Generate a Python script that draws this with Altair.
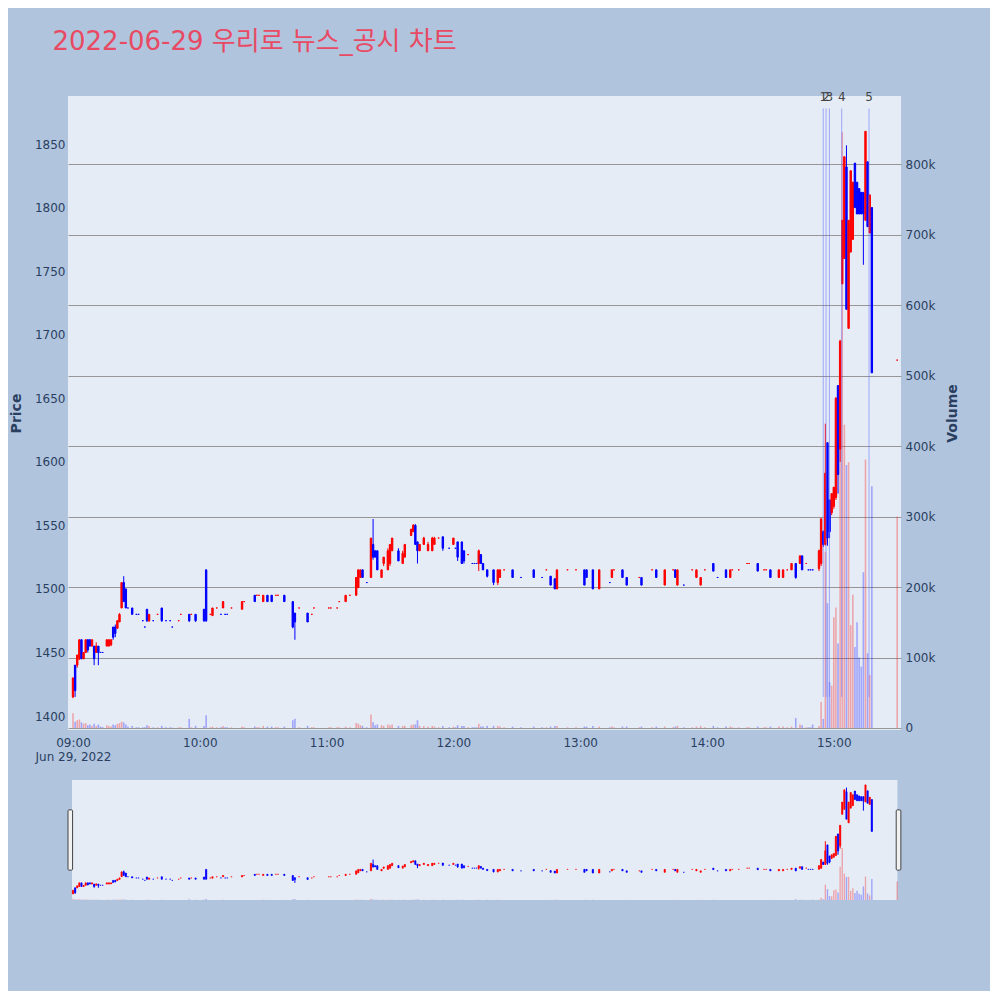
import altair as alt
import numpy as np
import pandas as pd

DAY = "2022-06-29"

# ── 1-minute candles (KST) ───────────────────────────────────────────────────
times = [
    # 09h
    "09:00", "09:01", "09:02", "09:03", "09:04", "09:05", "09:06", "09:07", "09:08", "09:09",
    "09:10", "09:11", "09:12", "09:13", "09:14", "09:16", "09:17", "09:18", "09:19", "09:20",
    "09:21", "09:22", "09:23", "09:24", "09:25", "09:26", "09:28", "09:30", "09:31", "09:33",
    "09:34", "09:35", "09:36", "09:38", "09:40", "09:42", "09:44", "09:46", "09:47", "09:50",
    "09:51", "09:55", "09:56", "09:58",
    # 10h
    "10:02", "10:03", "10:05", "10:06", "10:08", "10:10", "10:11", "10:12", "10:13", "10:15",
    "10:20", "10:21", "10:26", "10:27", "10:28", "10:30", "10:32", "10:34", "10:36", "10:37",
    "10:40", "10:44", "10:45", "10:47", "10:51", "10:53", "10:54",
    # 11h
    "11:01", "11:02", "11:05", "11:06", "11:09", "11:11", "11:14", "11:15", "11:16", "11:17",
    "11:19", "11:21", "11:22", "11:23", "11:24", "11:26", "11:27", "11:29", "11:30", "11:31",
    "11:34", "11:36", "11:37", "11:40", "11:41", "11:42", "11:43", "11:44", "11:46", "11:48",
    "11:50", "11:51", "11:53", "11:55", "11:58",
    # 12h
    "12:00", "12:01", "12:02", "12:04", "12:05", "12:07", "12:09", "12:10", "12:11", "12:12",
    "12:13", "12:14", "12:16", "12:19", "12:21", "12:22", "12:24", "12:28", "12:32", "12:38",
    "12:42", "12:44", "12:46", "12:48", "12:49", "12:54", "12:58",
    # 13h
    "13:02", "13:03", "13:06", "13:09", "13:14", "13:15", "13:16", "13:20", "13:22", "13:28",
    "13:29", "13:34", "13:36", "13:40", "13:44", "13:45", "13:46", "13:49", "13:53", "13:55",
    "13:57", "13:59",
    # 14h
    "14:03", "14:05", "14:09", "14:11", "14:12", "14:15", "14:19", "14:20", "14:24", "14:27",
    "14:28", "14:30", "14:34", "14:36", "14:38", "14:40", "14:42", "14:44", "14:45", "14:47",
    "14:48", "14:49", "14:50", "14:53", "14:54", "14:55", "14:56", "14:57", "14:58", "14:59",
    # 15h
    "15:00", "15:01", "15:02", "15:03", "15:04", "15:05", "15:06", "15:07", "15:08", "15:09",
    "15:10", "15:11", "15:12", "15:13", "15:14", "15:15", "15:16", "15:17", "15:18", "15:30",
]

opens = [
    1415, 1440, 1440, 1445, 1460, 1445, 1450, 1460, 1460, 1455,
    1455, 1450, 1455, 1450, 1450, 1455, 1455, 1456, 1470, 1470,
    1469, 1474, 1485, 1505, 1500, 1485, 1485, 1480, 1480, 1475,
    1470, 1484, 1475, 1475, 1480, 1485, 1475, 1475, 1470, 1475,
    1480, 1480, 1480, 1480,
    1484, 1515, 1480, 1479, 1485, 1480, 1485, 1480, 1480, 1485,
    1484, 1490, 1495, 1495, 1495, 1490, 1495, 1495, 1495, 1495,
    1495, 1490, 1481, 1485, 1481, 1480, 1485,
    1485, 1485, 1485, 1490, 1490, 1495, 1495, 1501, 1509, 1515,
    1505, 1509, 1535, 1530, 1530, 1509, 1520, 1515, 1520, 1530,
    1530, 1520, 1525, 1542, 1545, 1550, 1537, 1530, 1535, 1530,
    1530, 1535, 1540, 1541, 1532,
    1535, 1532, 1537, 1537, 1530, 1527, 1520, 1520, 1520, 1520,
    1527, 1520, 1515, 1515, 1505, 1509, 1515, 1515, 1509, 1515,
    1509, 1515, 1510, 1508, 1500, 1515, 1515,
    1515, 1515, 1515, 1500, 1505, 1509, 1515, 1515, 1509, 1509,
    1509, 1515, 1515, 1503, 1515, 1515, 1503, 1503, 1515, 1509,
    1503, 1515,
    1520, 1509, 1515, 1509, 1515, 1515, 1520, 1520, 1520, 1515,
    1515, 1515, 1509, 1509, 1515, 1515, 1520, 1520, 1526, 1520,
    1515, 1515, 1515, 1516, 1520, 1545, 1535, 1615, 1570, 1560,
    1565, 1572, 1660, 1610, 1740, 1760, 1832, 1705, 1765, 1775,
    1835, 1820, 1815, 1812, 1812, 1790, 1836, 1780, 1800, 1680,
]

highs = [
    1430, 1440, 1448, 1460, 1460, 1450, 1460, 1460, 1460, 1460,
    1455, 1458, 1455, 1450, 1450, 1460, 1460, 1460, 1470, 1472,
    1475, 1481, 1505, 1510, 1500, 1485, 1485, 1480, 1480, 1475,
    1470, 1484, 1480, 1475, 1480, 1485, 1475, 1475, 1470, 1475,
    1480, 1480, 1480, 1480,
    1484, 1515, 1480, 1485, 1485, 1480, 1490, 1480, 1480, 1485,
    1490, 1490, 1495, 1495, 1495, 1495, 1495, 1495, 1495, 1495,
    1495, 1490, 1481, 1485, 1481, 1480, 1485,
    1485, 1485, 1485, 1490, 1495, 1495, 1509, 1515, 1515, 1515,
    1505, 1540, 1555, 1530, 1530, 1515, 1525, 1532, 1535, 1540,
    1532, 1530, 1535, 1547, 1551, 1551, 1537, 1535, 1541, 1537,
    1541, 1541, 1540, 1541, 1532,
    1540, 1532, 1537, 1537, 1530, 1527, 1520, 1520, 1520, 1531,
    1527, 1520, 1515, 1515, 1515, 1515, 1515, 1515, 1509, 1515,
    1509, 1515, 1510, 1508, 1515, 1515, 1515,
    1515, 1515, 1515, 1515, 1505, 1515, 1515, 1515, 1509, 1509,
    1509, 1515, 1515, 1515, 1515, 1515, 1515, 1503, 1515, 1515,
    1509, 1515,
    1520, 1509, 1515, 1515, 1515, 1515, 1520, 1520, 1520, 1515,
    1515, 1515, 1515, 1515, 1515, 1520, 1520, 1526, 1526, 1520,
    1515, 1515, 1515, 1531, 1556, 1546, 1630, 1615, 1570, 1575,
    1580, 1651, 1660, 1696, 1790, 1840, 1849, 1790, 1829, 1820,
    1835, 1820, 1815, 1812, 1812, 1860, 1836, 1810, 1800, 1680,
]

lows = [
    1414, 1415, 1438, 1444, 1445, 1445, 1450, 1450, 1455, 1455,
    1440, 1450, 1440, 1450, 1450, 1455, 1455, 1455, 1460, 1462,
    1469, 1474, 1485, 1490, 1485, 1485, 1480, 1480, 1480, 1475,
    1470, 1474, 1474, 1475, 1480, 1474, 1475, 1475, 1470, 1475,
    1480, 1474, 1480, 1474,
    1474, 1474, 1480, 1479, 1485, 1480, 1485, 1480, 1480, 1485,
    1484, 1490, 1490, 1495, 1495, 1490, 1490, 1490, 1495, 1495,
    1490, 1469, 1460, 1485, 1474, 1480, 1485,
    1485, 1485, 1485, 1490, 1490, 1495, 1495, 1501, 1509, 1509,
    1505, 1509, 1523, 1525, 1515, 1509, 1518, 1515, 1518, 1530,
    1522, 1520, 1525, 1542, 1545, 1535, 1520, 1530, 1535, 1530,
    1530, 1535, 1540, 1530, 1532,
    1535, 1532, 1522, 1520, 1520, 1527, 1520, 1520, 1520, 1514,
    1520, 1515, 1509, 1503, 1503, 1509, 1515, 1509, 1509, 1509,
    1509, 1515, 1503, 1500, 1500, 1515, 1515,
    1503, 1509, 1500, 1500, 1505, 1509, 1515, 1509, 1503, 1509,
    1503, 1515, 1509, 1503, 1515, 1509, 1503, 1503, 1515, 1509,
    1503, 1515,
    1514, 1509, 1509, 1509, 1515, 1515, 1520, 1520, 1514, 1515,
    1515, 1509, 1509, 1509, 1515, 1515, 1508, 1520, 1515, 1520,
    1515, 1515, 1515, 1514, 1518, 1533, 1534, 1534, 1540, 1558,
    1563, 1570, 1575, 1600, 1740, 1760, 1720, 1705, 1765, 1775,
    1800, 1795, 1795, 1795, 1755, 1790, 1785, 1780, 1670, 1680,
]

closes = [
    1430, 1420, 1448, 1460, 1445, 1450, 1460, 1452, 1455, 1460,
    1445, 1455, 1450, 1450, 1450, 1460, 1460, 1460, 1462, 1465,
    1475, 1480, 1505, 1490, 1485, 1485, 1480, 1480, 1480, 1475,
    1470, 1475, 1480, 1475, 1480, 1475, 1475, 1475, 1470, 1475,
    1480, 1475, 1480, 1475,
    1475, 1475, 1480, 1485, 1485, 1480, 1490, 1480, 1480, 1485,
    1490, 1490, 1490, 1495, 1495, 1495, 1490, 1490, 1495, 1495,
    1490, 1470, 1474, 1485, 1474, 1480, 1485,
    1485, 1485, 1485, 1490, 1495, 1495, 1509, 1515, 1515, 1509,
    1505, 1540, 1525, 1525, 1515, 1515, 1525, 1530, 1535, 1540,
    1522, 1528, 1535, 1547, 1550, 1535, 1530, 1535, 1540, 1535,
    1540, 1540, 1540, 1532, 1532,
    1540, 1532, 1525, 1520, 1522, 1527, 1520, 1520, 1520, 1530,
    1520, 1515, 1510, 1505, 1515, 1515, 1515, 1509, 1509, 1509,
    1509, 1515, 1503, 1500, 1515, 1515, 1515,
    1503, 1509, 1500, 1515, 1505, 1515, 1515, 1509, 1503, 1509,
    1503, 1515, 1509, 1515, 1515, 1509, 1515, 1503, 1515, 1515,
    1509, 1515,
    1514, 1509, 1509, 1515, 1515, 1515, 1520, 1520, 1514, 1515,
    1515, 1509, 1515, 1515, 1515, 1520, 1509, 1526, 1515, 1520,
    1515, 1515, 1515, 1530, 1555, 1535, 1591, 1540, 1545, 1575,
    1580, 1650, 1590, 1695, 1790, 1840, 1720, 1790, 1829, 1820,
    1800, 1795, 1795, 1795, 1795, 1860, 1785, 1810, 1670, 1680,
]

volumes = [
    21000, 9000, 11000, 12000, 8000, 6000, 7000, 4000, 5000, 3000,
    6000, 3000, 5000, 2000, 1500, 4000, 3000, 2000, 5000, 4000,
    6000, 7000, 9000, 8000, 5000, 2000, 3000, 1000, 1000, 1000,
    1000, 4000, 3000, 1000, 1000, 3000, 1000, 1000, 500, 1000,
    1000, 13000, 1000, 3000,
    3000, 18000, 1000, 2000, 1000, 1000, 3000, 1000, 1000, 1000,
    2000, 1000, 2000, 1000, 1000, 3000, 2000, 2000, 1000, 1000,
    2000, 11000, 13000, 1000, 3000, 1000, 1000,
    1000, 1000, 1000, 1000, 2000, 1000, 7000, 6000, 4000, 3000,
    1000, 19000, 8000, 4000, 5000, 4000, 3000, 5000, 4000, 5000,
    3000, 3000, 3000, 4000, 5000, 5000, 11000, 3000, 3000, 2000,
    3000, 2000, 1000, 3000, 1000,
    2000, 1000, 4000, 3000, 3000, 1000, 1000, 1000, 1000, 6000,
    2000, 2000, 3000, 3000, 3000, 2000, 1000, 2000, 1000, 2000,
    1000, 1000, 2000, 3000, 3000, 1000, 1000,
    2000, 2000, 3000, 2000, 1000, 2000, 1000, 2000, 2000, 1000,
    2000, 1000, 2000, 2000, 1000, 2000, 3000, 1000, 1000, 2000,
    3000, 1000,
    3000, 1000, 2000, 2000, 1000, 1000, 1000, 1000, 2000, 1000,
    1000, 2000, 2000, 2000, 1000, 2000, 14000, 5000, 4000, 1000,
    1000, 1000, 5000, 3000, 37000, 13000, 250000, 177000, 65000, 60000,
    157000, 171000, 120000, 540000, 845000, 430000, 373000, 377000, 146000, 189000,
    115000, 150000, 100000, 87000, 221000, 381000, 106000, 75000, 343000, 300000,
]

# ── News / disclosure markers ────────────────────────────────────────────────
event_labels = ["1", "2", "3", "4", "5"]
event_times = ["14:55:00", "14:56:20", "14:57:55", "15:03:45", "15:16:40"]
event_bottom = 1415
event_top = 1878

n = len(times)
assert all(len(a) == n for a in (opens, highs, lows, closes, volumes)), [len(a) for a in (times, opens, highs, lows, closes, volumes)]

# Plotly-style direction: close vs open, ties decided by previous close
up = []
for i, (o, c) in enumerate(zip(opens, closes)):
    if c > o:
        d = True
    elif c < o:
        d = False
    elif i == 0:
        d = True
    elif c > closes[i - 1]:
        d = True
    elif c < closes[i - 1]:
        d = False
    else:
        d = up[-1]
    up.append(d)

df = pd.DataFrame({
    "t": pd.to_datetime([f"{DAY} {s}" for s in times]),
    "open": opens, "high": highs, "low": lows, "close": closes, "volume": volumes,
    "col": np.where(up, "#ff0000", "#0000ff"),
})

ev = pd.DataFrame({
    "t": pd.to_datetime([f"{DAY} {s}" for s in event_times]),
    "label": event_labels,
    "bottom": event_bottom,
    "top": event_top,
})


def dt(h, m=0, s=0):
    return alt.DateTime(year=2022, month=6, date=29, hours=h, minutes=m, seconds=s)


FONT = "DejaVu Sans"

# ── Scales / axes ────────────────────────────────────────────────────────────
x_scale = alt.Scale(domain=[dt(8, 57, 38), dt(15, 31, 48)], nice=False, padding=0)
x_axis = alt.Axis(
    values=[dt(h) for h in range(9, 16)],
    labelExpr="datum.index == 0 ? [timeFormat(datum.value, '%H:%M'), timeFormat(datum.value, '%b %-d, %Y')] : timeFormat(datum.value, '%H:%M')",
    title=None, grid=False, labelPadding=7, labelLineHeight=14,
)
x_enc = alt.X("t:T", scale=x_scale, axis=x_axis)

price_scale = alt.Scale(domain=[1389, 1887.8], nice=False, zero=False)
price_axis = alt.Axis(orient="left", values=list(range(1400, 1851, 50)), format="d", title="Price",
                      gridColor="white", gridWidth=1, labelPadding=3, titlePadding=11)

vol_scale = alt.Scale(domain=[-2840, 896500], nice=False, zero=False)
vol_axis = alt.Axis(orient="right", values=list(range(0, 800001, 100000)),
                    labelExpr="datum.value == 0 ? '0' : format(datum.value / 1000, 'd') + 'k'",
                    title="Volume", titleAngle=270, gridColor="#969696", gridWidth=1,
                    labelPadding=4, titlePadding=25)

col = alt.Color("col:N", scale=None, legend=None)

# ── Main panel ───────────────────────────────────────────────────────────────
vol = alt.Chart(df).mark_bar(width=1.6, opacity=0.3).encode(
    x=x_enc,
    y=alt.Y("volume:Q", scale=vol_scale, axis=vol_axis),
    y2=alt.datum(0),
    color=col,
)

wick = alt.Chart(df).mark_rule(strokeWidth=1).encode(
    x=x_enc,
    y=alt.Y("low:Q", scale=price_scale, axis=price_axis),
    y2="high:Q",
    color=col,
)

body = alt.Chart(df).mark_bar(width=1.4, strokeWidth=1).encode(
    x=x_enc,
    y=alt.Y("open:Q", scale=price_scale, axis=price_axis),
    y2="close:Q",
    fill=col,
    stroke=alt.Stroke("col:N", scale=None, legend=None),
)

ev_rule = alt.Chart(ev).mark_rule(color="#636efa", opacity=0.55, strokeWidth=1).encode(
    x=x_enc,
    y=alt.Y("bottom:Q", scale=price_scale, axis=price_axis),
    y2="top:Q",
)

ev_text = alt.Chart(ev).mark_text(baseline="bottom", dy=-4, fontSize=12, color="#444444",
                                  font=FONT).encode(
    x=x_enc,
    y=alt.Y("top:Q", scale=price_scale, axis=price_axis),
    text="label:N",
)

main = alt.layer(
    vol, alt.layer(wick, body, ev_rule, ev_text)
).resolve_scale(y="independent").properties(
    width=833, height=634, view=alt.ViewBackground(fill="#e5ecf6")
)

# ── Range slider ─────────────────────────────────────────────────────────────
slider_bg = pd.DataFrame({"t0": [pd.Timestamp(f"{DAY} 08:59:32")],
                          "t1": [pd.Timestamp(f"{DAY} 15:30:06")],
                          "v0": [0], "v1": [1950000]})
handles = pd.DataFrame({"t0": pd.to_datetime([f"{DAY} 08:57:38", f"{DAY} 15:29:32"]),
                        "t1": pd.to_datetime([f"{DAY} 08:59:48", f"{DAY} 15:31:44"]),
                        "p0": [1512, 1512], "p1": [1758, 1758]})

xs = alt.X("t:T", scale=x_scale, axis=None)
s_vol_scale = alt.Scale(domain=[0, 1950000], nice=False)
s_price_scale = alt.Scale(domain=[1390, 1880], nice=False, zero=False)

s_bg = alt.Chart(slider_bg).mark_rect(color="#e5ecf6").encode(
    x=alt.X("t0:T", scale=x_scale, axis=None), x2="t1:T",
    y=alt.Y("v0:Q", scale=s_vol_scale, axis=None), y2="v1:Q",
)
s_vol = alt.Chart(df).mark_bar(width=1.4, opacity=0.3).encode(
    x=xs, y=alt.Y("volume:Q", scale=s_vol_scale, axis=None), y2=alt.datum(0), color=col,
)
s_wick = alt.Chart(df).mark_rule(strokeWidth=1).encode(
    x=xs, y=alt.Y("low:Q", scale=s_price_scale, axis=None), y2="high:Q", color=col,
)
s_body = alt.Chart(df).mark_bar(width=1.3, strokeWidth=0.6).encode(
    x=xs, y=alt.Y("open:Q", scale=s_price_scale, axis=None), y2="close:Q",
    fill=col, stroke=alt.Stroke("col:N", scale=None, legend=None),
)
s_handles = alt.Chart(handles).mark_rect(fill="#f2f2f2", stroke="#444444", strokeWidth=1,
                                         cornerRadius=1).encode(
    x=alt.X("t0:T", scale=x_scale, axis=None), x2="t1:T",
    y=alt.Y("p0:Q", scale=s_price_scale, axis=None), y2="p1:Q",
)

slider = alt.layer(
    alt.layer(s_bg, s_vol), alt.layer(s_wick, s_body, s_handles)
).resolve_scale(y="independent").properties(width=833, height=120)

chart = alt.vconcat(main, slider, spacing=18).properties(
    title=alt.TitleParams(
        text="2022-06-29 우리로 뉴스_공시 차트",
        anchor="start", fontSize=26, fontWeight="normal",
        font="DejaVu Sans, Noto Sans CJK KR", color="#e84a64",
        offset=36, dx=43,
    ),
    padding={"left": 1, "top": 21, "right": 30, "bottom": 91},
    background="#b0c4de",
).configure_view(
    strokeWidth=0
).configure_axis(
    labelFont=FONT, labelFontSize=12, labelColor="#2a3f5f",
    titleFont=FONT, titleFontSize=14, titleFontWeight="bold", titleColor="#2a3f5f",
    domain=False, ticks=False,
)

chart.save("out.html", embed_options={"renderer": "svg", "actions": False})
